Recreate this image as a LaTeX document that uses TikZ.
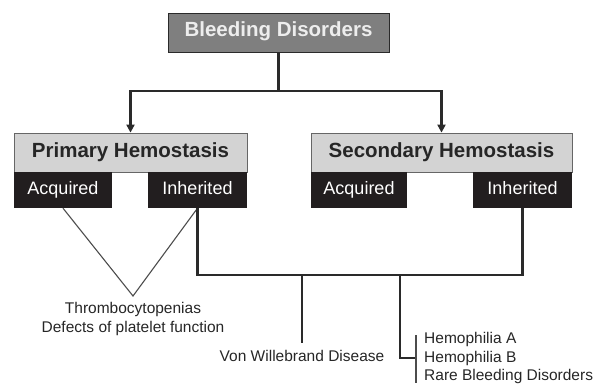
\documentclass[tikz,border=0pt]{standalone}
\usepackage{fontspec}
\setmainfont{Liberation Sans}
\usetikzlibrary{arrows.meta}
\definecolor{topgray}{HTML}{7F7F7F}
\definecolor{lightgray}{HTML}{D3D3D3}
\definecolor{boxblack}{HTML}{221E1F}
\definecolor{linedark}{HTML}{2A2A2A}
\tikzset{
  topbox/.style={draw=linedark, line width=1pt, fill=topgray, text=white!93!black, inner sep=0pt,
    text height=0.92em, text depth=0.2em,
    font=\fontsize{20.5}{24}\selectfont\bfseries},
  headbox/.style={draw=gray!80!black, line width=0.8pt, fill=lightgray, text=black!85, inner sep=0pt,
    text height=1.1em, text depth=0.2em,
    minimum height=39pt, font=\fontsize{20.5}{24}\selectfont\bfseries},
  subbox/.style={fill=boxblack, text=white, inner sep=0pt, minimum height=36pt,
    text height=1.1em, text depth=0.2em,
    font=\fontsize{18}{21}\selectfont},
  thickline/.style={draw=linedark, line width=2.2pt},
  arrowline/.style={thickline, -{Triangle[length=8pt,width=8pt]}},
  thinline/.style={draw=black!70, line width=1.1pt},
  label/.style={text=black!85, inner sep=0pt, font=\fontsize{15.5}{18.5}\selectfont},
}
\begin{document}
\begin{tikzpicture}[x=1pt,y=-1pt]
\useasboundingbox (0,0) rectangle (597,383);
% boxes
\node[topbox, minimum width=221pt, minimum height=39pt] (bd) at (278.5,32.5) {Bleeding Disorders};
\node[headbox, minimum width=233pt] (ph) at (130.5,152.5) {Primary Hemostasis};
\node[headbox, minimum width=261pt] (sh) at (441.5,152.5) {Secondary Hemostasis};
\node[subbox, minimum width=98pt] (pa) at (63,190) {Acquired};
\node[subbox, minimum width=99pt] (pi) at (197.5,190) {Inherited};
\node[subbox, minimum width=96pt] (sa) at (359,190) {Acquired};
\node[subbox, minimum width=99pt] (si) at (522.5,190) {Inherited};
% labels
\node[label, align=center] (pl) at (133,319) {Thrombocytopenias\\Defects of platelet function};
\node[label] (vwd) at (302,356) {Von Willebrand Disease};
\node[label, align=left, anchor=west] (hem) at (424,358) {Hemophilia A\\Hemophilia B\\Rare Bleeding Disorders};
% coordinates
\coordinate (j) at (278.5,91);
\coordinate (apex) at (133,296);
\coordinate (hj) at (522.5,275);
\coordinate (b1) at (302,275);
\coordinate (b1e) at (302,343);
\coordinate (b2) at (400,275);
\coordinate (br) at (416,358);
\coordinate (brt) at (416,335);
\coordinate (brb) at (416,383);
% connectors
\draw[thickline] (bd.south) -- (j);
\draw[arrowline] (j) -| (ph.north);
\draw[arrowline] (j) -| (sh.north);
\draw[thinline] (pa.south) -- (apex) -- (pi.south);
\draw[thickline] (pi.south) |- (hj) -- (si.south);
\draw[thickline] (b1) -- (b1e);
\draw[thickline] (b2) |- (br);
\draw[thinline] (brt) -- (brb);
\end{tikzpicture}
\end{document}
